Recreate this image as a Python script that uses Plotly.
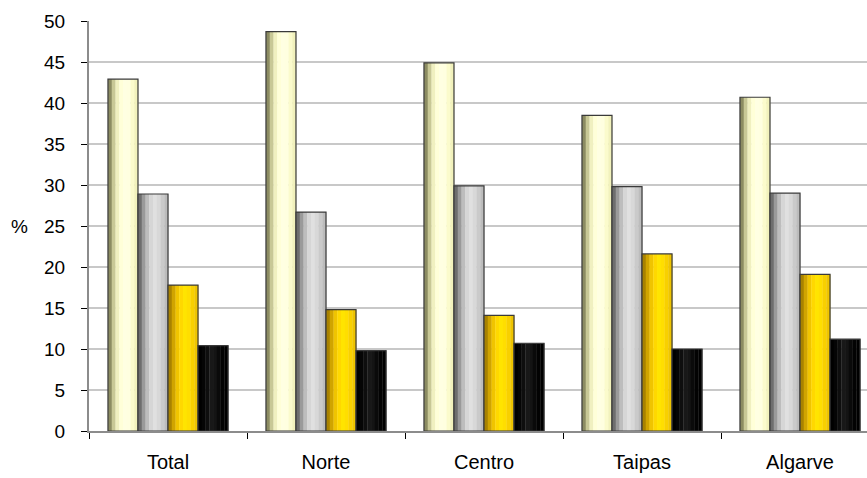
import plotly.graph_objects as go

categories = ["Total", "Norte", "Centro", "Taipas", "Algarve"]
serie_1 = [42.9, 48.7, 44.9, 38.5, 40.7]
serie_2 = [28.9, 26.7, 29.9, 29.8, 29.0]
serie_3 = [17.8, 14.8, 14.1, 21.6, 19.1]
serie_4 = [10.4, 9.8, 10.7, 10.0, 11.2]
y_ticks = [0, 5, 10, 15, 20, 25, 30, 35, 40, 45, 50]

series = [serie_1, serie_2, serie_3, serie_4]

# left-to-right shading of each bar (cylinder look)
shades = [
    ["#8c8c62", "#c8c896", "#f0f0c0", "#ffffd8", "#ffffe2", "#ffffe0", "#fbfbcc", "#f2f2bc"],
    ["#6e6e6e", "#9a9a9a", "#bdbdbd", "#d6d6d6", "#e0e0e0", "#d8d8d8", "#cacaca", "#bcbcbc"],
    ["#a88200", "#d0a400", "#f0c400", "#ffd800", "#ffe400", "#ffde00", "#f8d000", "#eec400"],
    ["#000000", "#050505", "#0e0e0e", "#181818", "#141414", "#0a0a0a", "#030303", "#000000"],
]

bar_w = 0.19
group_start = -2 * bar_w
K = len(shades[0])

fig = go.Figure()
for i, vals in enumerate(series):
    for k in range(K):
        fig.add_trace(go.Bar(
            x=categories, y=vals,
            width=bar_w / K + 0.002,
            offset=group_start + i * bar_w + k * bar_w / K,
            marker=dict(color=shades[i][k], line=dict(width=0)),
            showlegend=False, hoverinfo="skip",
        ))
    fig.add_trace(go.Bar(
        x=categories, y=vals,
        width=bar_w,
        offset=group_start + i * bar_w,
        marker=dict(color="rgba(0,0,0,0)", line=dict(width=1.2, color="#3a3a3a")),
        showlegend=False,
    ))

fig.update_layout(
    width=867, height=478,
    margin=dict(l=89, r=0, t=21, b=47, autoexpand=False),
    paper_bgcolor="white", plot_bgcolor="white",
    barmode="overlay",
    font=dict(family="Liberation Sans, Arial, sans-serif", size=19, color="black"),
    xaxis=dict(
        type="category",
        range=[-0.5, 4.424],
        showgrid=False,
        showline=True, linecolor="#8c8c8c", linewidth=2,
        ticks="outside", tickson="boundaries", ticklen=6, tickcolor="black", tickwidth=1,
        ticklabelstandoff=12,
        tickfont=dict(size=20),
        automargin=False,
    ),
    yaxis=dict(
        range=[0, 50],
        tickvals=y_ticks,
        showgrid=True, gridcolor="#c8c8c8", gridwidth=2,
        showline=True, linecolor="#8c8c8c", linewidth=2,
        ticks="outside", ticklen=6, tickcolor="black", tickwidth=1,
        ticklabelstandoff=12,
        tickfont=dict(size=19),
        zeroline=False,
        automargin=False,
    ),
    annotations=[dict(
        text="%", xref="paper", yref="paper", x=-0.0887, y=0.5,
        xanchor="center", yanchor="middle", showarrow=False,
        font=dict(size=19),
    )],
)

fig.write_html(
    "out.html",
    config={"displayModeBar": False},
    post_script="document.body.style.margin='0';document.body.style.padding='0';window.dispatchEvent(new Event('resize'));",
)
